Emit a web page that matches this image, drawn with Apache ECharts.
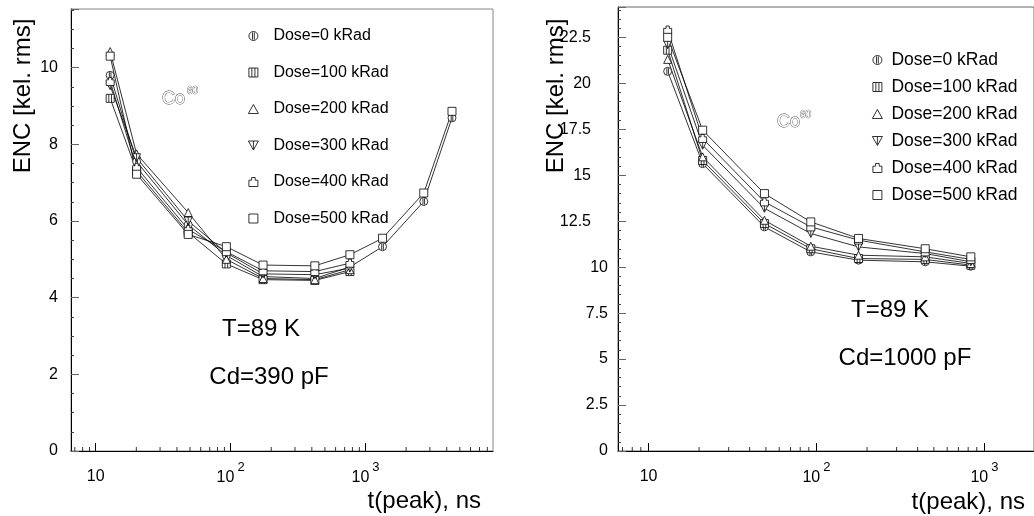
<!DOCTYPE html>
<html><head><meta charset="utf-8">
<script src="https://cdn.jsdelivr.net/npm/echarts@6/dist/echarts.min.js"></script>
<style>html,body{margin:0;padding:0;background:#fff}#c{width:1034px;height:516px}</style>
</head><body><div id="c"></div>
<script>
// ---------- data ----------
const doses = ['Dose=0 kRad','Dose=100 kRad','Dose=200 kRad','Dose=300 kRad','Dose=400 kRad','Dose=500 kRad'];

// Left panel: Cd = 390 pF
const tLeft = [12.8, 20.1, 48.5, 93, 174, 421, 766, 1337, 2703, 4375];
const encLeft0   = [9.8, 7.55, 5.9, 5.1, 4.55, 4.5, 4.8, 5.33, 6.51, 8.69];
const encLeft100 = [9.2, 7.3, 5.7, 4.88, 4.47, 4.45, 4.68];
const encLeft200 = [10.42, 7.75, 6.22, 5.0, 4.5, 4.47, 4.73];
const encLeft300 = [9.53, 7.65, 6.0, 5.17, 4.62, 4.6, 4.77];
const encLeft400 = [9.64, 7.4, 5.78, 5.2, 4.7, 4.68, 4.9];
const encLeft500 = [10.3, 7.22, 5.65, 5.33, 4.85, 4.83, 5.12, 5.55, 6.73, 8.86];

// Right panel: Cd = 1000 pF
const tRight = [13, 21, 49, 92.5, 178, 444, 830];
const encRight0   = [20.65, 15.63, 12.19, 10.83, 10.38, 10.29, 10.05];
const encRight100 = [21.8, 15.8, 12.37, 11.0, 10.47, 10.42, 10.11];
const encRight200 = [21.3, 16.0, 12.55, 11.14, 10.65, 10.56, 10.2];
const encRight300 = [22.1, 16.63, 13.2, 11.83, 11.1, 10.74, 10.29];
const encRight400 = [22.9, 17.0, 13.55, 12.19, 11.47, 10.83, 10.42];
const encRight500 = [22.5, 17.45, 14.0, 12.46, 11.56, 11.0, 10.56];

// axis tick values
const minorXLeft = [7,8,9,20,30,40,50,60,70,80,90,200,300,400,500,600,700,800,900,2000,3000,4000,5000,6000,7000,8000];
const minorXRight = [7,8,9,20,30,40,50,60,70,80,90,200,300,400,500,600,700,800,900];

// ---------- styling ----------
const FF = '"Liberation Sans", Arial, Helvetica, sans-serif';
const symbols = [
  'path://M5,0A5,5,0,1,1,5,10A5,5,0,1,1,5,0ZM4,1L4,9M6,1L6,9',
  'path://M0,0L10,0L10,10L0,10ZM3.3,0L3.3,10M6.7,0L6.7,10',
  'path://M5,0L10,9L0,9Z',
  'path://M0,0L10,0L5,9ZM5,0L5,8',
  'path://M3,0L7,0L7,3L10,3L10,10L0,10L0,3L3,3Z',
  'path://M0,0L10,0L10,10L0,10Z'
];
const leftData = [encLeft0, encLeft100, encLeft200, encLeft300, encLeft400, encLeft500];
const rightData = [encRight0, encRight100, encRight200, encRight300, encRight400, encRight500];
const zip = (xs, ys) => ys.map((y, i) => [xs[i], y]);

function xLabel(v) {
  const e = Math.log10(v), r = Math.round(e);
  if (Math.abs(e - r) > 1e-6 || r < 1 || r > 3) return '';
  if (r === 1) return '{n|10}';
  return '{n|10}{s|' + r + '}';
}
const xRich = {
  n: {fontSize: 16, fontFamily: FF, color: '#000', lineHeight: 32},
  s: {fontSize: 13, fontFamily: FF, color: '#000', padding: [0, 0, 20, 3]}
};

function makeX(idx, min, max) {
  return {
    type: 'log', gridIndex: idx, min: min, max: max, logBase: 10,
    axisLine: {lineStyle: {color: '#000', width: 1}},
    axisTick: {inside: true, length: 8, lineStyle: {color: '#000'}},
    axisLabel: {formatter: xLabel, rich: xRich, margin: 10, showMinLabel: false, showMaxLabel: false},
    splitLine: {show: false}, minorTick: {show: false}
  };
}
function makeY(idx, max, interval, split, margin, fmt) {
  return {
    type: 'value', gridIndex: idx, min: 0, max: max, interval: interval,
    axisLine: {show: true, lineStyle: {color: '#000', width: 1}},
    axisTick: {show: true, inside: true, length: 8, lineStyle: {color: '#666'}},
    minorTick: {show: true, splitNumber: split, length: 3, lineStyle: {color: '#444'}},
    axisLabel: {fontSize: 16, fontFamily: FF, color: '#000', margin: margin, showMaxLabel: false, formatter: fmt, rich: {
      u: {fontSize: 16, fontFamily: FF, color: '#000', padding: [0, 17, 0, 0]},
      l: {fontSize: 16, fontFamily: FF, color: '#000'}
    }},
    splitLine: {show: false}
  };
}

const series = [];
for (let p = 0; p < 2; p++) {
  const xs = p === 0 ? tLeft : tRight;
  const dat = p === 0 ? leftData : rightData;
  dat.forEach((ys, i) => {
    series.push({
      type: 'line', name: doses[i], xAxisIndex: p, yAxisIndex: p,
      data: zip(xs, ys), symbol: symbols[i], symbolSize: 8,
      showSymbol: true, animation: false, silent: true, z: 3,
      lineStyle: {color: '#000', width: 0.8},
      itemStyle: {color: '#fff', borderColor: '#000', borderWidth: 0.8},
      emphasis: {disabled: true}
    });
  });
}
// minor log ticks on the x axes
[[minorXLeft, 0], [minorXRight, 1]].forEach(([ticks, p]) => {
  series.push({
    type: 'scatter', xAxisIndex: p, yAxisIndex: p, silent: true, animation: false,
    data: ticks.map(t => [t, 0]), symbol: 'rect', symbolSize: [1, 4], symbolOffset: [0, -2],
    itemStyle: {color: '#000'}, z: 4
  });
});

const legendBase = {
  orient: 'vertical', padding: 0, selectedMode: false,
  itemStyle: {color: '#fff', borderColor: '#000', borderWidth: 0.8},
  data: doses.map((n, i) => ({name: n, icon: symbols[i]}))
};

const txt = (text, x, y, size, extra) => Object.assign({
  type: 'text', x: x, y: y, silent: true,
  style: {text: text, font: size + 'px ' + FF, fill: '#000', textAlign: 'center', textVerticalAlign: 'middle'}
}, extra || {});

const option = {
  backgroundColor: '#fff',
  animation: false,
  grid: [
    {left: 71, top: 9, width: 422, height: 442, show: true, borderColor: '#888', borderWidth: 1, backgroundColor: 'transparent'},
    {left: 618, top: 7, right: -20, height: 444, show: true, borderColor: '#666', borderWidth: 1, backgroundColor: 'transparent'}
  ],
  xAxis: [makeX(0, 6.56, 8810), makeX(1, 6.58, 1973)],
  yAxis: [
    makeY(0, 11.53, 2, 4, 13, v => '{l|' + v + '}'),
    makeY(1, 24.15, 2.5, 5, 10, v => (v >= 12.5 ? '{u|' + v + '}' : '{l|' + v + '}'))
  ],
  legend: [
    Object.assign({}, legendBase, {left: 248, top: 28, itemWidth: 30, itemHeight: 9, itemGap: 20.5,
      textStyle: {fontSize: 16, fontFamily: FF, color: '#000'}}),
    Object.assign({}, legendBase, {left: 872, top: 51, itemWidth: 18, itemHeight: 9, itemGap: 9,
      textStyle: {fontSize: 17.5, fontFamily: FF, color: '#000'}})
  ],
  series: series,
  graphic: [
    txt('ENC [kel. rms]', 23, 96, 24, {rotation: Math.PI / 2}),
    txt('ENC [kel. rms]', 556, 96, 24, {rotation: Math.PI / 2}),
    {type: 'text', x: 481, y: 501, silent: true, style: {text: 't(peak), ns', font: '24px ' + FF, fill: '#000', textAlign: 'right', textVerticalAlign: 'middle'}},
    {type: 'text', x: 1025, y: 502, silent: true, style: {text: 't(peak), ns', font: '24px ' + FF, fill: '#000', textAlign: 'right', textVerticalAlign: 'middle'}},
    txt('T=89 K', 261, 329, 24),
    txt('Cd=390 pF', 269, 377, 24),
    txt('T=89 K', 890, 310, 24),
    txt('Cd=1000 pF', 905, 358, 24),
    {type: 'text', x: 162, y: 99, silent: true, style: {text: 'Co', font: '18px ' + FF, fill: '#fff', stroke: '#333', lineWidth: 0.8, textAlign: 'left', textVerticalAlign: 'middle'}},
    {type: 'text', x: 187, y: 91, silent: true, style: {text: '60', font: '10px ' + FF, fill: '#fff', stroke: '#333', lineWidth: 0.6, textAlign: 'left', textVerticalAlign: 'middle'}},
    {type: 'text', x: 777, y: 122, silent: true, style: {text: 'Co', font: '18px ' + FF, fill: '#fff', stroke: '#333', lineWidth: 0.8, textAlign: 'left', textVerticalAlign: 'middle'}},
    {type: 'text', x: 800, y: 115, silent: true, style: {text: '60', font: '10px ' + FF, fill: '#fff', stroke: '#333', lineWidth: 0.6, textAlign: 'left', textVerticalAlign: 'middle'}}
  ]
};
const chart = echarts.init(document.getElementById('c'), null, {renderer: 'canvas'});
chart.setOption(option);
</script>
</body></html>
